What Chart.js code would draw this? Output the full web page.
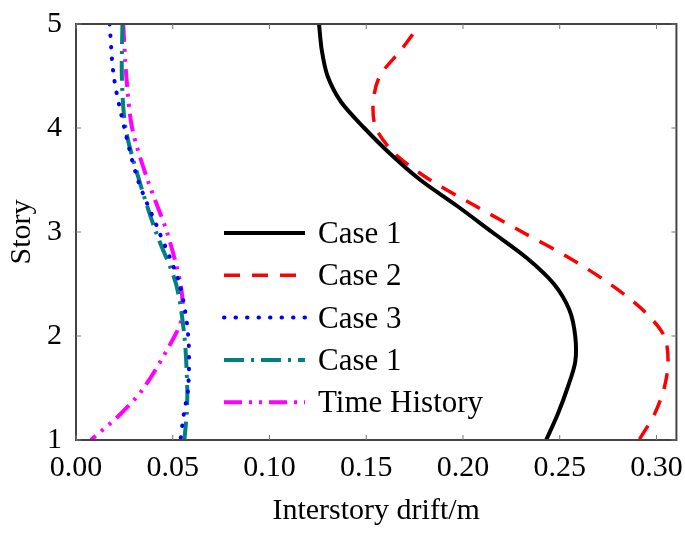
<!DOCTYPE html>
<html><head><meta charset="utf-8">
<script src="https://cdn.jsdelivr.net/npm/chart.js@4"></script>
<style>html,body{margin:0;padding:0;background:#fff}#w{width:685px;height:533px}</style>
</head><body><div id="w"><canvas id="c"></canvas></div>
<script>
const labels = ["Case 1","Case 2","Case 3","Case 1","Time History"];
const story = [5,4.75,4.5,4.25,4,3.75,3.5,3.25,3,2.75,2.5,2.25,2,1.75,1.5,1.25,1];
const case1 = [0.1256,0.127,0.130,0.137,0.149,0.1625,0.178,0.197,0.215,0.233,0.247,0.255,0.258,0.258,0.254,0.249,0.243];
const case2Story = [4.9,4.75,4.5,4.25,4,3.75,3.5,3.25,3,2.75,2.5,2.25,2,1.75,1.5,1.25,1];
const case2 = [0.174,0.168,0.157,0.1536,0.155,0.165,0.183,0.2065,0.2306,0.255,0.276,0.293,0.304,0.306,0.304,0.299,0.291];
const lStory = [5,4.5,4,3.5,3,2.5,2,1.5,1.25,1];
const case3 = [0.0174,0.0195,0.025,0.032,0.043,0.0535,0.058,0.058,0.0557,0.054];
const case1b = [0.024,0.0237,0.0256,0.0326,0.0413,0.0517,0.056,0.0575,0.0572,0.056];
const thStory = [5,4.5,4,3.5,3,2.5,2.2,2,1.5,1.25,1];
const timeHist = [0.0244,0.026,0.029,0.037,0.047,0.054,0.055,0.051,0.035,0.023,0.0077];
const xTicks = [0,0.05,0.10,0.15,0.20,0.25,0.30];

const pts=(xs,ys)=>xs.map((x,i)=>({x:x,y:ys[i]}));
const styles=[
 {c:'#000000',w:4,d:[]},
 {c:'#ff0000',w:3.5,d:[16,12]},
 {c:'#0000ff',w:4,d:[0.5,11],cap:'round'},
 {c:'#008080',w:4,d:[20,7,3,7]},
 {c:'#ff00ff',w:4,d:[18,7,3,7,3,7]}
];
const data=[pts(case1,story),pts(case2,case2Story),pts(case3,lStory),pts(case1b,lStory),pts(timeHist,thStory)];
const datasets=data.map((d,i)=>({label:labels[i],data:d,showLine:true,pointRadius:0,tension:0.3,
 borderColor:styles[i].c,borderWidth:styles[i].w,borderDash:styles[i].d,borderCapStyle:styles[i].cap||'butt'}));

const legendPlugin={id:'lg',afterDraw(ch){
 const ctx=ch.ctx;ctx.save();
 ch.data.datasets.forEach((ds,i)=>{
  const y=233+i*42.3;
  ctx.strokeStyle=ds.borderColor;ctx.lineWidth=ds.borderWidth;ctx.setLineDash(ds.borderDash);ctx.lineCap=ds.borderCapStyle;
  ctx.beginPath();ctx.moveTo(224,y);ctx.lineTo(305,y);ctx.stroke();
  ctx.setLineDash([]);ctx.fillStyle='#000';ctx.font='31px "Liberation Serif"';ctx.textBaseline='middle';
  ctx.fillText(ds.label,318,y+2);
 });
 const a=ch.chartArea;ctx.strokeStyle='#444';ctx.lineWidth=2;ctx.lineCap='butt';
 ctx.strokeRect(a.left,a.top,a.right-a.left,a.bottom-a.top);
 ctx.lineWidth=1;ctx.strokeStyle='#777';
 xTicks.forEach(v=>{const x=ch.scales.x.getPixelForValue(v);ctx.beginPath();ctx.moveTo(x,a.bottom);ctx.lineTo(x,a.bottom-5);ctx.moveTo(x,a.top);ctx.lineTo(x,a.top+5);ctx.stroke();});
 [1,2,3,4,5].forEach(v=>{const y=ch.scales.y.getPixelForValue(v);ctx.beginPath();ctx.moveTo(a.left,y);ctx.lineTo(a.left+5,y);ctx.moveTo(a.right,y);ctx.lineTo(a.right-5,y);ctx.stroke();});
 ctx.restore();
}};
const font={family:'"Liberation Serif"',size:30};
new Chart(document.getElementById('c'),{type:'scatter',data:{datasets},plugins:[legendPlugin],
 options:{responsive:true,maintainAspectRatio:false,animation:false,
  layout:{padding:{top:13,right:8,left:0,bottom:0}},
  plugins:{legend:{display:false},tooltip:{enabled:false}},
  scales:{
   x:{type:'linear',min:0,max:0.3103,afterBuildTicks(s){s.ticks=xTicks.map(v=>({value:v}));},
      afterFit(s){s.height=93;},
      grid:{display:false},border:{display:false},
      ticks:{color:'#000',font,padding:2,maxRotation:0,callback:v=>v.toFixed(2)},
      title:{display:true,text:'Interstory drift/m',color:'#000',font,padding:{top:4}}},
   y:{type:'linear',min:1,max:5,afterFit(s){s.width=76;},
      grid:{display:false},border:{display:false},
      ticks:{color:'#000',font,stepSize:1,padding:6},
      title:{display:true,text:'Story',color:'#000',font,padding:{bottom:2}}}
  }}});
</script></body></html>
